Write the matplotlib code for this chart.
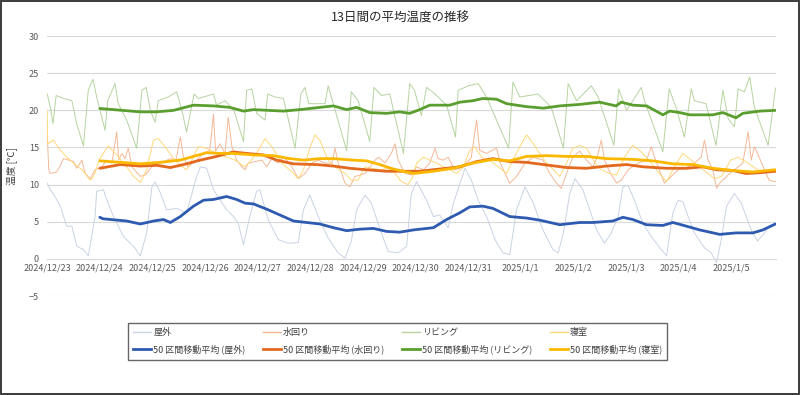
import matplotlib
matplotlib.use('Agg')
from matplotlib import pyplot as plt
from matplotlib.lines import Line2D

plt.rcParams['font.family'] = ['Noto Sans CJK JP', 'DejaVu Sans']

# x axis: days since 2024/12/23 (readings are rough)
date_labels = ['2024/12/23', '2024/12/24', '2024/12/25', '2024/12/26', '2024/12/27',
               '2024/12/28', '2024/12/29', '2024/12/30', '2024/12/31', '2025/1/1',
               '2025/1/2', '2025/1/3', '2025/1/4', '2025/1/5']

# 屋外 raw
out_t = [0.00, 0.06, 0.15, 0.25, 0.37, 0.47, 0.56, 0.69, 0.78, 0.91, 0.94, 1.07, 1.13, 1.26,
         1.45, 1.64, 1.77, 1.89, 1.99, 2.05, 2.15, 2.27, 2.46, 2.65, 2.84, 2.91, 3.03, 3.16,
         3.28, 3.41, 3.54, 3.63, 3.73, 3.85, 3.98, 4.04, 4.20, 4.39, 4.58, 4.77, 4.87, 4.99,
         5.15, 5.34, 5.53, 5.66, 5.78, 5.88, 6.04, 6.16, 6.35, 6.48, 6.67, 6.83, 6.92, 7.02,
         7.21, 7.34, 7.46, 7.62, 7.72, 7.94, 8.06, 8.19, 8.35, 8.51, 8.66, 8.79, 8.92, 9.08,
         9.24, 9.42, 9.61, 9.71, 9.81, 9.93, 10.03, 10.18, 10.31, 10.44, 10.59, 10.72, 10.85,
         10.94, 11.04, 11.16, 11.32, 11.48, 11.67, 11.77, 11.89, 11.99, 12.08, 12.18, 12.30,
         12.49, 12.62, 12.72, 12.81, 12.91, 13.06, 13.19, 13.38, 13.50, 13.63, 13.72, 13.84]
out_v = [10.2, 9.3, 8.4, 7.1, 4.4, 4.4, 1.7, 1.25, 0.4, 5.7, 9.1, 9.3, 8.0, 5.7,
         3.0, 1.7, 0.4, 3.5, 9.7, 10.4, 8.9, 6.6, 6.8, 6.2, 11.1, 12.4, 12.2, 9.3,
         8.0, 6.6, 5.7, 4.8, 1.9, 5.7, 9.1, 9.3, 5.3, 2.6, 2.1, 2.2, 6.6, 8.6,
         5.7, 2.8, 0.8, 0.1, 2.4, 6.6, 8.6, 7.5, 3.5, 1.0, 0.8, 1.7, 8.8, 10.4,
         7.9, 5.7, 5.9, 4.2, 7.5, 12.2, 10.6, 7.9, 5.7, 2.6, 0.8, 0.6, 6.6, 9.7,
         7.5, 3.9, 1.25, 0.8, 3.5, 8.8, 10.8, 9.3, 6.6, 3.9, 2.1, 3.5, 5.7,
         9.7, 9.9, 7.9, 4.8, 3.0, 1.25, 0.4, 6.2, 7.9, 7.7, 5.7, 3.5,
         1.5, 0.8, -0.5, 2.6, 7.1, 8.8, 7.5, 3.9, 2.4, 3.5, 4.4, 4.8]

# 水回り raw
wet_t = [0.00, 0.03, 0.06, 0.18, 0.25, 0.31, 0.41, 0.50, 0.56, 0.66, 0.72, 0.82, 0.91, 1.04,
         1.13, 1.23, 1.32, 1.36, 1.42, 1.48, 1.54, 1.61, 1.77, 1.86, 1.99, 2.15, 2.34, 2.45,
         2.53, 2.59, 2.68, 2.84, 2.97, 3.09, 3.16, 3.20, 3.28, 3.38, 3.44, 3.51, 3.60, 3.70,
         3.76, 3.82, 3.95, 4.08, 4.17, 4.27, 4.39, 4.49, 4.55, 4.65, 4.77, 4.90, 5.03, 5.15,
         5.28, 5.41, 5.47, 5.53, 5.66, 5.75, 5.85, 6.04, 6.23, 6.30, 6.42, 6.54, 6.61, 6.67,
         6.80, 6.92, 7.02, 7.15, 7.27, 7.37, 7.43, 7.53, 7.62, 7.74, 7.91, 8.06, 8.16, 8.22,
         8.35, 8.45, 8.54, 8.61, 8.70, 8.79, 8.92, 9.08, 9.24, 9.42, 9.55, 9.68, 9.77, 9.87,
         9.99, 10.12, 10.25, 10.37, 10.45, 10.53, 10.59, 10.69, 10.82, 10.91, 11.04, 11.23,
         11.39, 11.48, 11.54, 11.61, 11.73, 11.86, 11.99, 12.18, 12.30, 12.43, 12.49, 12.56,
         12.65, 12.72, 12.78, 12.94, 13.06, 13.22, 13.32, 13.38, 13.44, 13.50, 13.63, 13.72,
         13.84]
wet_v = [17.0, 12.0, 11.5, 11.7, 12.6, 13.5, 13.3, 13.1, 12.2, 13.3, 11.5, 10.8, 12.0, 12.4,
         13.3, 12.9, 17.1, 13.3, 14.2, 13.5, 14.9, 12.4, 11.1, 11.3, 12.4, 12.9, 13.5, 13.3,
         16.4, 13.7, 12.4, 13.3, 14.2, 14.6, 19.5, 14.5, 15.5, 14.2, 19.1, 15.1, 13.3, 12.4,
         12.0, 12.9, 13.1, 13.3, 12.4, 13.5, 12.9, 13.7, 13.3, 12.4, 10.8, 11.5, 12.9, 13.3,
         12.9, 12.9, 14.9, 12.9, 10.2, 9.7, 11.1, 11.5, 13.3, 13.7, 12.9, 14.2, 15.5, 13.3,
         11.5, 11.3, 12.4, 12.0, 12.9, 14.9, 13.5, 13.3, 13.7, 12.0, 12.4, 13.7, 18.7, 14.6,
         14.2, 14.6, 14.9, 12.9, 11.5, 10.2, 11.1, 12.9, 13.7, 13.3, 11.5, 10.2, 9.5, 11.5,
         13.7, 14.5, 13.3, 12.4, 13.7, 16.0, 13.3, 11.7, 10.2, 10.6, 12.0, 12.9,
         13.3, 15.1, 13.7, 12.4, 10.2, 11.1, 12.0, 12.4, 12.9, 13.7, 16.0, 13.3,
         12.0, 9.5, 10.2, 11.3, 12.0, 12.9, 17.1, 13.3, 15.1, 14.2, 12.0, 10.6,
         10.4]

# リビング raw
liv_t = [0.00, 0.06, 0.11, 0.17, 0.31, 0.47, 0.56, 0.69, 0.78, 0.87, 0.94, 1.10, 1.15, 1.29,
         1.35, 1.51, 1.70, 1.80, 1.88, 1.96, 2.05, 2.11, 2.30, 2.46, 2.56, 2.65, 2.79, 2.87,
         3.16, 3.22, 3.38, 3.55, 3.73, 3.79, 3.89, 3.98, 4.14, 4.19, 4.33, 4.49, 4.71, 4.82,
         4.90, 4.97, 5.10, 5.28, 5.34, 5.40, 5.69, 5.78, 5.91, 6.13, 6.21, 6.35, 6.51, 6.77,
         6.89, 6.98, 7.11, 7.21, 7.37, 7.59, 7.76, 7.81, 8.00, 8.19, 8.35, 8.77, 8.85, 8.98,
         9.33, 9.58, 9.81, 9.90, 10.06, 10.34, 10.47, 10.77, 10.86, 11.01, 11.29, 11.35, 11.70,
         11.82, 11.95, 12.11, 12.24, 12.30, 12.52, 12.71, 12.84, 12.94, 13.06, 13.13, 13.25,
         13.35, 13.44, 13.70, 13.84]
liv_v = [22.2, 20.4, 18.2, 22.0, 21.6, 21.3, 18.2, 15.2, 22.7, 24.2, 21.8, 17.3, 21.3, 23.6,
         20.9, 18.7, 14.9, 22.7, 23.1, 20.0, 18.4, 21.3, 21.8, 22.5, 20.0, 17.1, 22.2, 21.6,
         22.2, 20.7, 21.3, 20.0, 15.8, 22.7, 22.9, 19.6, 18.7, 22.2, 21.8, 21.6, 14.9, 22.2,
         23.1, 20.9, 20.9, 20.9, 23.3, 21.8, 14.6, 22.5, 21.3, 15.8, 23.1, 22.0, 22.2, 14.2,
         23.6, 22.7, 19.3, 23.1, 22.2, 20.7, 16.4, 22.7, 23.3, 23.6, 21.8, 14.9, 23.8, 21.8,
         22.2, 20.4, 14.9, 23.6, 21.3, 23.3, 21.8, 15.3, 22.9, 20.0, 23.1, 21.3, 14.4,
         22.9, 20.4, 16.4, 22.9, 21.3, 20.9, 15.3, 22.7, 18.9, 17.8, 22.9, 22.5,
         24.5, 20.4, 15.3, 23.0]

# 寝室 raw
bed_t = [0.00, 0.01, 0.12, 0.22, 0.37, 0.50, 0.66, 0.82, 0.88, 1.00, 1.16, 1.32, 1.51, 1.64,
         1.77, 1.89, 2.02, 2.11, 2.24, 2.40, 2.53, 2.65, 2.75, 2.87, 3.03, 3.22, 3.41, 3.57,
         3.76, 3.88, 4.01, 4.14, 4.27, 4.46, 4.65, 4.77, 4.87, 4.99, 5.09, 5.18, 5.34, 5.47,
         5.66, 5.78, 5.91, 6.04, 6.16, 6.35, 6.48, 6.61, 6.73, 6.86, 6.95, 7.02, 7.15, 7.27,
         7.40, 7.53, 7.65, 7.78, 7.91, 8.03, 8.13, 8.25, 8.41, 8.57, 8.73, 8.85, 8.98, 9.11,
         9.24, 9.36, 9.49, 9.62, 9.74, 9.87, 9.99, 10.12, 10.25, 10.41, 10.53, 10.69, 10.82,
         10.97, 11.13, 11.29, 11.48, 11.63, 11.77, 11.92, 12.08, 12.24, 12.39, 12.56, 12.68,
         12.81, 12.99, 13.13, 13.32, 13.50, 13.70, 13.84]
bed_v = [20.0, 15.5, 16.0, 14.9, 13.7, 12.9, 12.0, 10.6, 11.1, 13.5, 15.2, 14.0, 12.4, 11.1,
         10.3, 12.0, 16.0, 16.2, 15.1, 13.5, 12.6, 12.0, 13.3, 15.1, 14.9, 14.2, 13.7, 13.3,
         12.4, 13.3, 14.6, 16.2, 15.1, 12.9, 11.7, 10.8, 12.0, 14.9, 16.7, 16.0, 13.3, 12.4,
         11.5, 10.6, 10.6, 12.4, 12.2, 12.0, 12.2, 11.5, 10.4, 10.0, 11.1, 12.9, 13.7, 13.3,
         12.9, 12.4, 12.0, 11.5, 12.4, 14.6, 15.1, 13.7, 13.3, 12.4, 11.5, 13.3, 15.1, 16.7,
         15.5, 14.2, 12.9, 12.0, 11.1, 12.9, 14.9, 15.3, 14.9, 12.9, 12.0, 11.5, 11.3,
         13.7, 15.3, 14.4, 12.9, 11.5, 10.4, 12.4, 14.2, 13.3, 12.4, 11.5, 10.8,
         11.1, 13.3, 13.7, 12.9, 12.0, 11.7, 11.7]

# 50 区間移動平均
out_ma_t = [1.00, 1.06, 1.51, 1.77, 2.02, 2.21, 2.34, 2.53, 2.78, 2.97, 3.16, 3.41, 3.60, 3.76,
            3.92, 4.17, 4.49, 4.68, 4.93, 5.18, 5.44, 5.69, 5.94, 6.20, 6.45, 6.70, 6.96, 7.34,
            7.59, 7.84, 8.03, 8.28, 8.47, 8.79, 9.11, 9.37, 9.74, 10.12, 10.37, 10.75, 10.94,
            11.13, 11.39, 11.70, 11.89, 12.15, 12.40, 12.78, 13.09, 13.41, 13.60, 13.84]
out_ma_v = [5.6, 5.4, 5.1, 4.7, 5.1, 5.3, 4.9, 5.7, 7.1, 7.9, 8.0, 8.4, 8.0, 7.5,
            7.4, 6.7, 5.7, 5.1, 4.9, 4.7, 4.2, 3.8, 4.0, 4.1, 3.7, 3.6, 3.9, 4.2,
            5.3, 6.2, 7.0, 7.1, 6.8, 5.7, 5.5, 5.2, 4.6, 4.9, 4.9, 5.1, 5.6,
            5.3, 4.6, 4.5, 4.9, 4.4, 3.9, 3.3, 3.5, 3.5, 3.9, 4.7]

wet_ma_t = [1.00, 1.39, 1.77, 2.08, 2.34, 2.59, 2.91, 3.22, 3.54, 3.79, 4.11, 4.36, 4.68, 5.12,
            5.44, 5.75, 6.07, 6.45, 6.70, 7.08, 7.46, 7.84, 8.16, 8.47, 8.79, 9.11, 9.43, 9.87,
            10.25, 10.63, 11.01, 11.32, 11.77, 12.15, 12.46, 12.72, 13.03, 13.28, 13.54, 13.84]
wet_ma_v = [12.2, 12.7, 12.5, 12.6, 12.3, 12.7, 13.3, 13.8, 14.4, 14.2, 14.0, 13.3, 12.8, 12.7,
            12.5, 12.2, 12.0, 11.8, 11.8, 11.8, 12.1, 12.4, 13.1, 13.5, 13.1, 13.0, 12.7, 12.3,
            12.2, 12.5, 12.7, 12.4, 12.2, 12.2, 12.4, 12.0, 11.9, 11.5, 11.6, 11.8]

liv_ma_t = [1.00, 1.77, 2.08, 2.40, 2.78, 3.16, 3.47, 3.73, 3.92, 4.49, 4.80, 5.18, 5.44, 5.69,
            5.88, 6.13, 6.45, 6.70, 6.89, 7.08, 7.27, 7.65, 7.84, 8.09, 8.28, 8.54, 8.73, 9.11,
            9.43, 9.74, 10.12, 10.50, 10.81, 10.91, 11.13, 11.39, 11.70, 11.83, 12.02, 12.21,
            12.65, 12.84, 13.09, 13.22, 13.54, 13.84]
liv_ma_v = [20.25, 19.8, 19.8, 20.0, 20.7, 20.6, 20.4, 19.9, 20.1, 19.9, 20.1, 20.4, 20.6, 20.1,
            20.4, 19.7, 19.6, 19.8, 19.6, 20.1, 20.7, 20.7, 21.1, 21.3, 21.6, 21.5, 20.9, 20.5,
            20.3, 20.6, 20.8, 21.1, 20.6, 21.1, 20.7, 20.6, 19.4, 19.9, 19.7, 19.4,
            19.4, 19.7, 19.0, 19.6, 19.9, 20.0]

bed_ma_t = [1.00, 1.39, 1.77, 2.15, 2.53, 2.78, 3.03, 3.28, 3.54, 3.92, 4.30, 4.61, 4.87, 5.18,
            5.44, 5.82, 6.07, 6.32, 6.58, 6.70, 6.96, 7.34, 7.71, 8.09, 8.47, 8.79, 9.11, 9.49,
            9.87, 10.25, 10.63, 11.13, 11.51, 11.89, 12.27, 12.65, 13.03, 13.41, 13.84]
bed_ma_v = [13.2, 13.0, 12.8, 13.0, 13.3, 13.8, 14.3, 14.2, 14.2, 14.0, 13.9, 13.5, 13.3, 13.5,
            13.5, 13.3, 13.2, 12.7, 12.1, 11.9, 11.5, 11.8, 12.2, 12.9, 13.4, 13.2, 13.8, 13.9,
            13.8, 13.8, 13.5, 13.4, 13.2, 12.8, 12.7, 12.2, 11.9, 11.7, 12.0]

names = ['屋外', '水回り', 'リビング', '寝室']
raw_colors = ['#C9D3E6', '#F4B896', '#B5D4A0', '#FFD878']
ma_colors = ['#2E5BB0', '#E2691F', '#5B9E30', '#FBB800']

fig = plt.figure(figsize=(8, 3.95), dpi=100)
fig.patch.set_edgecolor('#404040')
fig.patch.set_linewidth(1.5)
ax = fig.add_axes([0.059, 0.2506, 0.911, 0.658])

raws = [(out_t, out_v), (wet_t, wet_v), (liv_t, liv_v), (bed_t, bed_v)]
mas = [(out_ma_t, out_ma_v), (wet_ma_t, wet_ma_v), (liv_ma_t, liv_ma_v), (bed_ma_t, bed_ma_v)]

for (t, v), c in zip(raws, raw_colors):
    ax.plot(t, v, color=c, lw=0.7, zorder=2)
for (t, v), c in zip(mas, ma_colors):
    ax.plot(t, v, color=c, lw=2.0, zorder=3, solid_capstyle='round')

ax.set_xlim(0, 13.85)
ax.set_ylim(-5, 30)
ax.set_yticks(range(-5, 31, 5))
ax.set_xticks(range(len(date_labels)))
ax.set_xticklabels(date_labels)
ax.grid(axis='y', color='#D9D9D9', lw=0.8)
ax.set_axisbelow(True)
for s in ['top', 'right', 'left']:
    ax.spines[s].set_visible(False)
ax.spines['bottom'].set_position(('data', 0))
ax.spines['bottom'].set_color('#D9D9D9')
ax.spines['bottom'].set_linewidth(0.8)
ax.tick_params(axis='both', length=0, labelsize=6.5, labelcolor='#595959')
ax.tick_params(axis='x', pad=3)
ax.tick_params(axis='y', pad=6)

ax.set_ylabel('温度 [℃]', fontsize=7, color='#404040', labelpad=8)
fig.text(0.5, 0.955, '13日間の平均温度の推移', ha='center', va='center',
         fontsize=9, color='#262626')

handles, labels = [], []
for i in range(4):
    handles.append(Line2D([], [], color=raw_colors[i], lw=1.0))
    labels.append(names[i])
    handles.append(Line2D([], [], color=ma_colors[i], lw=2.0))
    labels.append('50 区間移動平均 (' + names[i] + ')')

leg = fig.legend(handles, labels, ncol=4, loc='center', mode='expand',
                 bbox_to_anchor=(0.16, 0.091, 0.674, 0.091), fontsize=6.5,
                 frameon=True, fancybox=False, handlelength=2.0, handletextpad=0.2,
                 borderaxespad=0, labelspacing=0.8, borderpad=0.6)
leg.get_frame().set_edgecolor('#404040')
leg.get_frame().set_linewidth(1.0)
for txt in leg.get_texts():
    txt.set_color('#404040')

fig.savefig('out.png', dpi=100)
